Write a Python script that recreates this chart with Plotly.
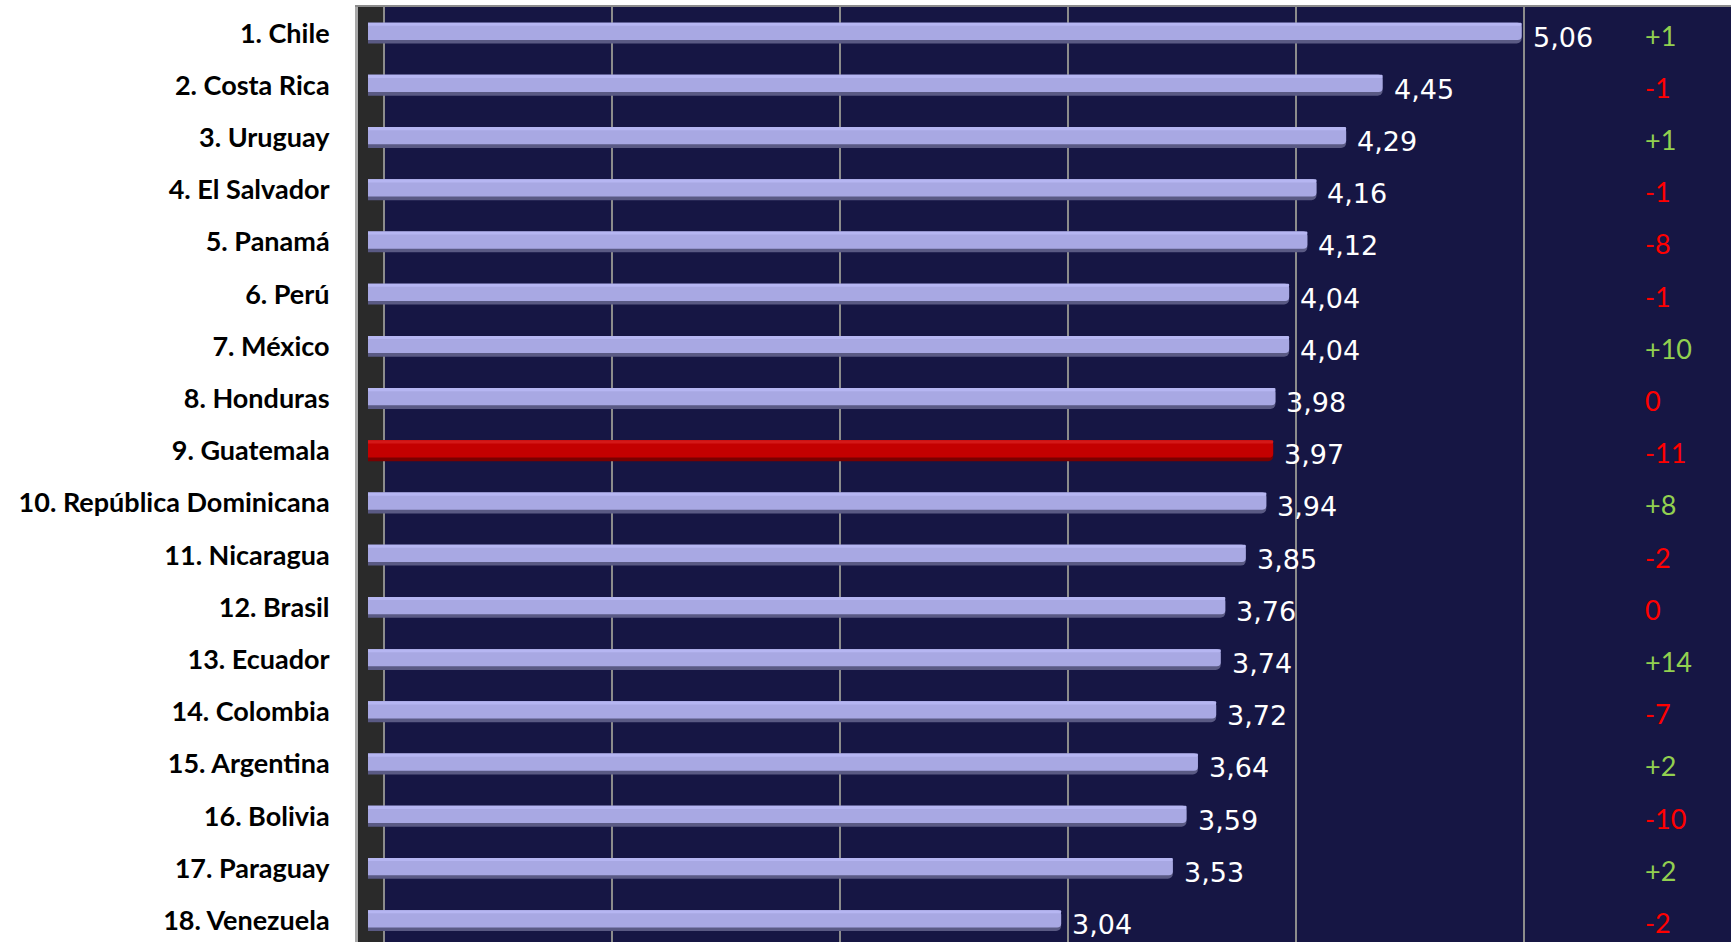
import plotly.graph_objects as go

countries = ["1. Chile", "2. Costa Rica", "3. Uruguay", "4. El Salvador", "5. Panamá",
             "6. Perú", "7. México", "8. Honduras", "9. Guatemala",
             "10. República Dominicana", "11. Nicaragua", "12. Brasil", "13. Ecuador",
             "14. Colombia", "15. Argentina", "16. Bolivia", "17. Paraguay", "18. Venezuela"]
scores = [5.06, 4.45, 4.29, 4.16, 4.12, 4.04, 4.04, 3.98, 3.97, 3.94, 3.85, 3.76,
          3.74, 3.72, 3.64, 3.59, 3.53, 3.04]
rank_change = ["+1", "-1", "+1", "-1", "-8", "-1", "+10", "0", "-11", "+8", "-2", "0",
               "+14", "-7", "+2", "-10", "+2", "-2"]
highlight = "9. Guatemala"

pos = list(range(len(countries)))
is_hi = [c == highlight for c in countries]
shadow_cols = ["#7a0000" if h else "#5a5a84" for h in is_hi]
body_cols = ["#c40000" if h else "#a8a8e3" for h in is_hi]
top_cols = ["#d41818" if h else "#b6b6f2" for h in is_hi]

fig = go.Figure()
fig.add_trace(go.Bar(x=scores, y=pos, orientation="h", width=0.40, offset=-0.20,
                     marker=dict(color=shadow_cols, line=dict(width=0), cornerradius=5),
                     hoverinfo="skip", showlegend=False))
fig.add_trace(go.Bar(x=scores, y=pos, orientation="h", width=0.33, offset=-0.20,
                     marker=dict(color=body_cols, line=dict(width=0), cornerradius=4),
                     hoverinfo="skip", showlegend=False))
fig.add_trace(go.Bar(x=scores, y=pos, orientation="h", width=0.06, offset=-0.20,
                     marker=dict(color=top_cols, line=dict(width=0), cornerradius=2),
                     hoverinfo="skip", showlegend=False))

annotations = []
for p, v in zip(pos, scores):
    annotations.append(dict(x=v, y=p, xref="x", yref="y", text=f"{v:.2f}".replace(".", ","),
                            showarrow=False, xanchor="left", yanchor="middle", xshift=9, yshift=-4,
                            font=dict(family="DejaVu Sans", size=27, color="white")))
for p, r in zip(pos, rank_change):
    col = "#92d050" if r.startswith("+") else "#ff0000"
    annotations.append(dict(x=5.59, y=p, xref="x", yref="y", text=r, showarrow=False,
                            xanchor="left", yanchor="middle", yshift=-2,
                            font=dict(family="Lato", size=27, color=col)))

fig.update_layout(
    width=1731, height=942,
    margin=dict(l=358, r=0, t=7, b=0),
    paper_bgcolor="white",
    plot_bgcolor="#161644",
    barmode="overlay",
    showlegend=False,
    annotations=annotations,
    shapes=[dict(type="rect", xref="x", yref="paper", x0=-0.06, x1=0.069, y0=0, y1=1,
                 fillcolor="#2a2a2a", line=dict(width=0), layer="below")],
    xaxis=dict(range=[-0.0439, 5.978], tick0=0.069, dtick=1, showgrid=True,
               gridcolor="#8c8c8c", gridwidth=2, showticklabels=False, zeroline=False,
               side="top", showline=True, linecolor="#8c8c8c", linewidth=2, ticks=""),
    yaxis=dict(range=[17.41, -0.5], tickvals=pos, ticktext=countries, showgrid=False,
               zeroline=False, showline=True, linecolor="#a8a8a8", linewidth=3, ticks="",
               ticklabelstandoff=20,
               tickfont=dict(family="Lato", size=27, color="black", weight="bold")),
)

fig.write_html("out.html", config={"displayModeBar": False},
               post_script="document.body.style.margin='0';")
